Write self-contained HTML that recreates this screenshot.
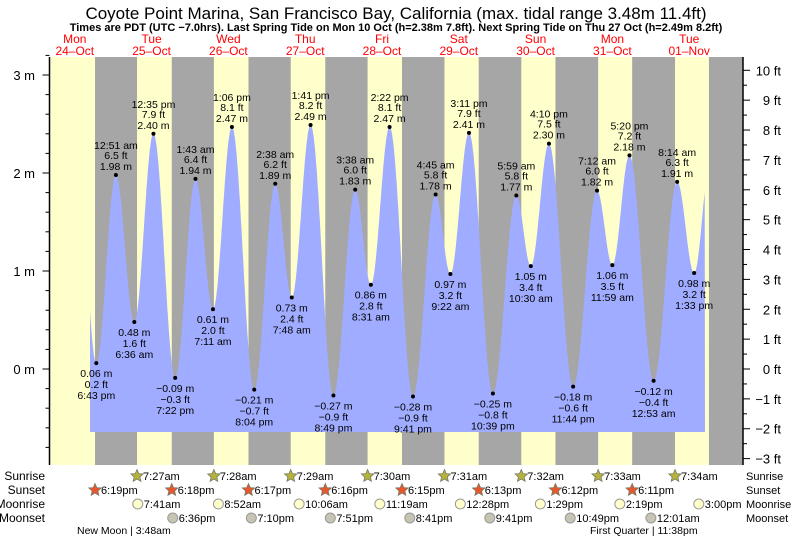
<!DOCTYPE html>
<html><head><meta charset="utf-8">
<style>
body{margin:0;background:#fff;}
svg{display:block;font-family:"Liberation Sans",sans-serif;}
</style></head><body>
<svg id="chart" width="793" height="539" viewBox="0 0 793 539">
<text x="396" y="19" font-size="17" text-anchor="middle">Coyote Point Marina, San Francisco Bay, California (max. tidal range 3.48m 11.4ft)</text>
<text x="396" y="31" font-size="11" font-weight="bold" text-anchor="middle">Times are PDT (UTC −7.0hrs). Last Spring Tide on Mon 10 Oct (h=2.38m 7.8ft). Next Spring Tide on Thu 27 Oct (h=2.49m 8.2ft)</text>
<g id="bands"></g><g id="tide"></g><g id="axes"></g><g id="labels"></g><g id="astro"></g>
</svg>
<script>
const dayNames=["Mon","Tue","Wed","Thu","Fri","Sat","Sun","Mon","Tue"];
const dayDates=["24–Oct","25–Oct","26–Oct","27–Oct","28–Oct","29–Oct","30–Oct","31–Oct","01–Nov"];
// tide extremes: hours since Mon 24-Oct 00:00, height m
const tideHours=[18.72,24.85,30.6,36.58,43.37,49.72,55.18,61.1,68.07,74.63,79.8,85.68,92.82,99.63,104.52,110.37,117.68,124.75,129.37,135.18,142.65,149.98,154.5,160.17,167.73,175.2,179.98,185.33,192.88,200.23,205.55];
const tideHeights=[0.06,1.98,0.48,2.40,-0.09,1.94,0.61,2.47,-0.21,1.89,0.73,2.49,-0.27,1.83,0.86,2.47,-0.28,1.78,0.97,2.41,-0.25,1.77,1.05,2.30,-0.18,1.82,1.06,2.18,-0.12,1.91,0.98];
const tideTimes=["6:43 pm","12:51 am","6:36 am","12:35 pm","7:22 pm","1:43 am","7:11 am","1:06 pm","8:04 pm","2:38 am","7:48 am","1:41 pm","8:49 pm","3:38 am","8:31 am","2:22 pm","9:41 pm","4:45 am","9:22 am","3:11 pm","10:39 pm","5:59 am","10:30 am","4:10 pm","11:44 pm","7:12 am","11:59 am","5:20 pm","12:53 am","8:14 am","1:33 pm"];
const tideFt=["0.2","6.5","1.6","7.9","−0.3","6.4","2.0","8.1","−0.7","6.2","2.4","8.2","−0.9","6.0","2.8","8.1","−0.9","5.8","3.2","7.9","−0.8","5.8","3.4","7.5","−0.6","6.0","3.5","7.2","−0.4","6.3","3.2"];
const sunriseHours=[31.45,55.47,79.48,103.5,127.52,151.53,175.55,199.57];
const sunriseLabels=["7:27am","7:28am","7:29am","7:30am","7:31am","7:32am","7:33am","7:34am"];
const sunsetHours=[18.32,42.3,66.28,90.27,114.25,138.22,162.2,186.18];
const sunsetLabels=["6:19pm","6:18pm","6:17pm","6:16pm","6:15pm","6:13pm","6:12pm","6:11pm"];
const sunsetAll=[18.32,42.3,66.28,90.27,114.25,138.22,162.2,186.18,210.17];
const sunriseAll=[31.45,55.47,79.48,103.5,127.52,151.53,175.55,199.57];
const moonriseHours=[31.68,56.87,82.1,107.32,132.47,157.48,182.32,207];
const moonriseLabels=["7:41am","8:52am","10:06am","11:19am","12:28pm","1:29pm","2:19pm","3:00pm"];
const moonsetHours=[42.6,67.17,91.85,116.68,141.68,166.82,192.02];
const moonsetLabels=["6:36pm","7:10pm","7:51pm","8:41pm","9:41pm","10:49pm","12:01am"];

const NS="http://www.w3.org/2000/svg";
const X0=36.4, PXH=3.2, LEFT=49.5, RIGHT=743, TOP=57, BOT=465;
const x=h=>X0+h*PXH;
const y=m=>369-m*98;
function el(t,a,p){const e=document.createElementNS(NS,t);for(const k in a)e.setAttribute(k,a[k]);p.appendChild(e);return e;}
function txt(s,a,p){const e=el("text",a,p);e.textContent=s;return e;}
const bands=document.getElementById("bands"),tide=document.getElementById("tide"),axes=document.getElementById("axes"),labels=document.getElementById("labels"),astro=document.getElementById("astro");

el("rect",{x:LEFT,y:TOP,width:RIGHT-LEFT,height:BOT-TOP,fill:"#a6a6a6"},bands);
for(let i=0;i<sunsetAll.length;i++){
  const start=i===0?LEFT:x(sunriseAll[i-1]);
  const end=Math.min(x(sunsetAll[i]),RIGHT);
  const r=el("rect",{x:start,y:TOP,width:end-start,height:BOT-TOP,fill:"#ffffcc"},bands);
  
  
}
for(let i=0;i<dayNames.length;i++){
  const cx=x(i*24+12);
  const t1=txt(dayNames[i],{x:cx,y:43,"font-size":12,fill:"#f00","text-anchor":"middle"},bands);
  
  
  const t2=txt(dayDates[i],{x:cx,y:55,"font-size":12,fill:"#f00","text-anchor":"middle"},bands);
  
  
}
const hs=[tideHours[0]-6.1].concat(tideHours,[tideHours[tideHours.length-1]+5]);
const vs=[2.3].concat(tideHeights,[2.1]);
const startH=(90-X0)/PXH, endH=(705-X0)/PXH, bottom=432;
let d="M90,"+bottom;
for(let H=startH;H<=endH;H+=0.1){
  let k=0;while(k<hs.length-2&&hs[k+1]<H)k++;
  const f=(H-hs[k])/(hs[k+1]-hs[k]);
  const v=vs[k]+(vs[k+1]-vs[k])*(1-Math.cos(Math.PI*f))/2;
  d+=" L"+x(H).toFixed(1)+","+y(v).toFixed(1);
}
d+=" L705,"+bottom+" Z";
const path=el("path",{d:d,fill:"#a0acff"},tide);


for(let i=0;i<tideHours.length;i++){
  const cx=x(tideHours[i]),cy=y(tideHeights[i]);
  const dot=el("circle",{cx:cx,cy:cy,r:2,fill:"#000"},labels);
  
  
  const high=i>0&&tideHeights[i]>tideHeights[i-1]||(i===0&&tideHeights[0]>tideHeights[1]);
  const m=tideHeights[i].toFixed(2).replace("-","−")+" m", ft=tideFt[i]+" ft";
  const lines=high?[[tideTimes[i],-26],[ft,-16],[m,-5]]:[[m,14],[ft,25],[tideTimes[i],36]];
  for(const [s,dy] of lines){
    const t=txt(s,{x:cx,y:cy+dy,"font-size":10.5,"text-anchor":"middle",fill:"#000"},labels);
    
    
  }
}
el("line",{x1:LEFT,y1:TOP,x2:LEFT,y2:BOT,stroke:"#000","stroke-width":1.5},axes);
el("line",{x1:RIGHT,y1:TOP,x2:RIGHT,y2:BOT,stroke:"#000","stroke-width":1.5},axes);
for(let m=-0.8;m<=3.21;m+=0.2){
  const major=Math.abs(m-Math.round(m))<0.01;
  el("line",{x1:LEFT-(major?7:4),y1:y(m),x2:LEFT,y2:y(m),stroke:"#000"},axes);
  if(major){const t=txt((Math.round(m)<0?"−":"")+Math.abs(Math.round(m))+" m",{x:35,y:y(m)+5,"font-size":13,"text-anchor":"end"},axes);
    }
}
for(let f=-3;f<=10.5;f+=0.5){
  const yy=369-f*0.3048*98;if(yy<TOP)continue;
  const major=Number.isInteger(f);
  el("line",{x1:RIGHT,y1:yy,x2:RIGHT+(major?7:4),y2:yy,stroke:"#000"},axes);
  if(major){const t=txt((f<0?"−":"")+Math.abs(f)+" ft",{x:781,y:yy+5,"font-size":13,"text-anchor":"end"},axes);
    }
}
const rows=[["Sunrise",476],["Sunset",490],["Moonrise",504],["Moonset",518]];
for(const [n,yy] of rows){
  const a=txt(n,{x:45,y:yy+4,"font-size":12,"text-anchor":"end"},astro);
  
  const b=txt(n,{x:746,y:yy+4,"font-size":11},astro);
  
}
function star(cx,cy,fill){let p="";for(let k=0;k<10;k++){const r=k%2?3:6.5,a=-Math.PI/2+k*Math.PI/5;p+=(cx+r*Math.cos(a)).toFixed(1)+","+(cy+r*Math.sin(a)).toFixed(1)+" ";}
  return el("polygon",{points:p,fill:fill,stroke:"#776",'stroke-width':0.8},astro);}
function marks(hours,lbls,yy,kind){
  for(let i=0;i<hours.length;i++){
    const cx=x(hours[i]);let s;
    if(kind==="rise")s=star(cx,yy,"#b4b43a");
    else if(kind==="set")s=star(cx,yy,"#e8572c");
    else s=el("circle",{cx:cx,cy:yy,r:5,fill:kind==="mrise"?"#ffffcc":"#c8c4b4",stroke:"#999"},astro);
    
    const t=txt(lbls[i],{x:cx+6,y:yy+4,"font-size":11},astro);
    
  }
}
marks(sunriseHours,sunriseLabels,476,"rise");
marks(sunsetHours,sunsetLabels,490,"set");
marks(moonriseHours,moonriseLabels,504,"mrise");
marks(moonsetHours,moonsetLabels,518,"mset");
const nm=txt("New Moon | 3:48am",{x:77,y:534,"font-size":10.5},astro);

const fq=txt("First Quarter | 11:38pm",{x:590,y:534,"font-size":10.5},astro);

</script>
</body></html>
